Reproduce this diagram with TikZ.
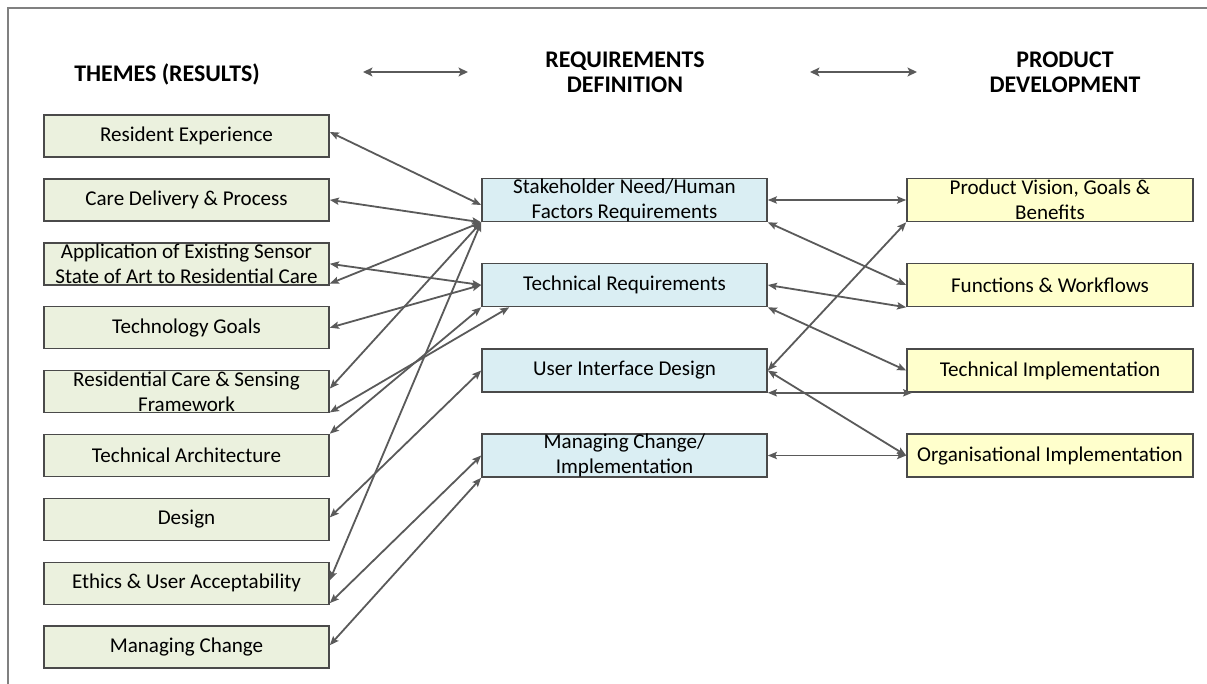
\documentclass[tikz,border=0pt]{standalone}
\usepackage{fontspec}
\setmainfont{Carlito}
\usetikzlibrary{arrows.meta,calc}
\definecolor{lgreen}{HTML}{EBF1DE}
\definecolor{lblue}{HTML}{DAEEF3}
\definecolor{lyellow}{HTML}{FFFFCC}
\definecolor{edgec}{HTML}{5A5A5A}
\definecolor{bord}{HTML}{4A4A4A}
\definecolor{framec}{HTML}{808080}
\begin{document}
\begin{tikzpicture}[x=0.75pt,y=-0.75pt,
  box/.style={draw=bord,line width=1.2pt,minimum width=213.75pt,minimum height=31.5pt,
    inner sep=0pt,align=center,font=\fontsize{15.8}{18.75}\selectfont},
  tbox/.style={box,fill=lgreen},
  rbox/.style={box,fill=lblue,minimum height=32.25pt},
  pbox/.style={box,fill=lyellow,minimum width=214.5pt,minimum height=32.25pt},
  link/.style={draw=edgec,line width=1.35pt,{Stealth[length=6.8pt,width=5.4pt,inset=1.2pt]}-{Stealth[length=6.8pt,width=5.4pt,inset=1.2pt]}},
  hlink/.style={draw=edgec,line width=2pt,{Stealth[length=7pt,width=6.5pt,inset=1.5pt]}-{Stealth[length=7pt,width=6.5pt,inset=1.5pt]}},
  headtxt/.style={font=\bfseries\fontsize{17.9}{18.75}\selectfont,align=center,inner sep=0pt}
]
\useasboundingbox (0,0) rectangle (1207,684);
\fill[white] (0,0) rectangle (1207,684);
\coordinate (f1) at (8,684);
\coordinate (f2) at (8,8);
\coordinate (f3) at (1207,8);
\draw[framec,line width=1.1pt] (f1) -- (f2) -- (f3);

% headers
\node[headtxt] (h1) at (167,74) {THEMES (RESULTS)};
\node[headtxt] (h2) at (625,72) {REQUIREMENTS\\DEFINITION};
\node[headtxt] (h3) at (1065,72) {PRODUCT\\DEVELOPMENT};
\coordinate (ha1) at (363,72);
\coordinate (hb1) at (468,72);
\coordinate (ha2) at (810,72);
\coordinate (hb2) at (917,72);
\draw[hlink] (ha1) -- (hb1);
\draw[hlink] (ha2) -- (hb2);

% left column
\node[tbox] (re) at (186.5,136) {Resident Experience};
\node[tbox] (cd) at (186.5,199.9) {Care Delivery \& Process};
\node[tbox] (ap) at (186.5,263.8) {Application of Existing Sensor\\State of Art to Residential Care};
\node[tbox] (tg) at (186.5,327.7) {Technology Goals};
\node[tbox] (rc) at (186.5,391.6) {Residential Care \& Sensing\\Framework};
\node[tbox] (ta) at (186.5,455.5) {Technical Architecture};
\node[tbox] (de) at (186.5,519.4) {Design};
\node[tbox] (et) at (186.5,583.3) {Ethics \& User Acceptability};
\node[tbox] (mc) at (186.5,647.2) {Managing Change};

% middle column
\node[rbox] (sh) at (624.5,200) {Stakeholder Need/Human\\Factors Requirements};
\node[rbox] (tr) at (624.5,285) {Technical Requirements};
\node[rbox] (ui) at (624.5,370.5) {User Interface Design};
\node[rbox] (mi) at (624.5,455.5) {Managing Change/\\Implementation};

% right column
\node[pbox] (pv) at (1050,200) {Product Vision, Goals \&\\Benefits};
\node[pbox] (fw) at (1050,285) {Functions \& Workflows};
\node[pbox] (ti) at (1050,370.5) {Technical Implementation};
\node[pbox] (oi) at (1050,455.5) {Organisational Implementation};

% left <-> middle
\draw[link] ($(re.east)+(0,-4)$) -- ($(sh.west)+(0,5)$);
\draw[link] (cd.east) -- (sh.south west);
\draw[link] ($(ap.south east)+(0,-2)$) -- (sh.south west);
\draw[link] (ap.east) -- (tr.west);
\draw[link] (tg.east) -- (tr.west);
\draw[link] ($(rc.east)+(0,-3)$) -- (sh.south west);
\draw[link] ($(rc.south east)+(0,-1)$) -- ($(tr.south west)+(28,0)$);
\draw[link] (ta.north east) -- (tr.south west);
\draw[link] ($(de.east)+(0,-2)$) -- (ui.west);
\draw[link] ($(et.east)+(0,-3)$) -- (sh.south west);
\draw[link] ($(et.south east)+(0,-2)$) -- (mi.west);
\draw[link] ($(mc.east)+(0,-2)$) -- (mi.south west);

% middle <-> right
\draw[link] (sh.east) -- (pv.west);
\draw[link] (sh.south east) -- (fw.west);
\draw[link] (tr.east) -- (fw.south west);
\draw[link] (tr.south east) -- (ti.west);
\draw[link] (ui.east) -- (pv.south west);
\draw[link] (ui.south east) -- ($(ti.south west)+(6,0)$);
\draw[link] (ui.east) -- (oi.west);
\draw[link] (mi.east) -- (oi.west);
\end{tikzpicture}
\end{document}
